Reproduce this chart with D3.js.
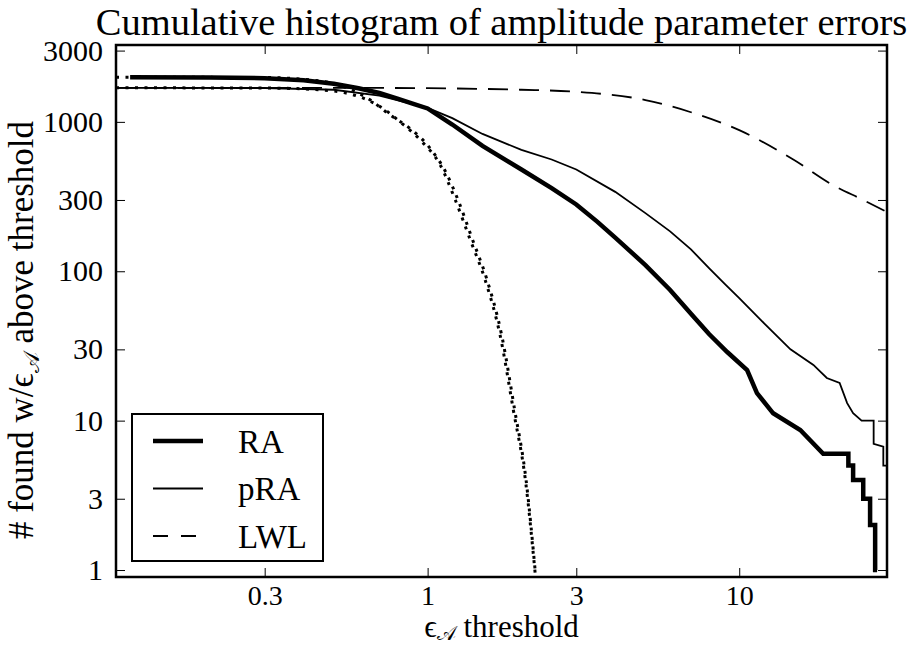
<!DOCTYPE html>
<html>
<head>
<meta charset="utf-8">
<script src="https://cdn.jsdelivr.net/npm/d3@7"></script>
<style>
    body { margin: 0; background: #fff; }
</style>
</head>
<body>
<div id="chart"></div>
<script>
// cumulative histogram of amplitude errors, log-log

// 0. data
var xTicks = [0.3, 1, 3, 10];
var yTicks = [1, 3, 10, 30, 100, 300, 1000, 3000];
var FONT = "'Liberation Serif'";

// RA, thick solid
var raX = [0.111, 0.2, 0.3, 0.4, 0.5, 0.6, 0.7, 0.8, 0.9, 1.0, 1.2, 1.5, 2.0, 2.5, 3.0, 3.5, 4.0, 5.0, 6.0, 7.0, 8.0, 9.15, 10.6, 11.4, 12.85, 15.7, 18.6, 22.4, 22.4, 23.2, 23.2, 25.0, 25.0, 26.3, 26.3, 27.3, 27.3, 27.7];
var raY = [1990, 1985, 1960, 1900, 1800, 1680, 1560, 1430, 1320, 1230, 960, 690, 480, 360, 280, 215, 168, 110, 75, 52, 38, 28.8, 21.8, 15.3, 11.2, 8.65, 6, 6, 5, 5, 4, 4, 3, 3, 2, 2, 1, 1];

// pRA, thin solid
var praX = [0.1, 0.3, 0.5, 0.7, 1.0, 1.2, 1.5, 2.0, 2.5, 3.0, 4.0, 5.0, 6.0, 7.0, 8.0, 9.0, 10.0, 12.0, 14.6, 17.3, 19.1, 21.0, 22.2, 23.2, 24.7, 27.0, 27.0, 29.0, 29.0, 29.8];
var praY = [1690, 1685, 1640, 1500, 1240, 1060, 830, 650, 560, 480, 340, 245, 185, 140, 105, 82, 66, 45, 30, 23.6, 19.3, 17.9, 13.1, 11.2, 10, 10, 7, 6.7, 5, 5];

// LWL, dashed
var lwlX = [0.1, 0.5, 1.0, 2.0, 3.0, 5.0, 7.0, 10.0, 15.0, 20.0, 25.0, 29.8];
var lwlY = [1690, 1690, 1680, 1640, 1590, 1400, 1160, 880, 555, 377, 300, 249];

// expected curves, dotted
var exp1X = [0.1, 0.3, 0.45, 0.608, 0.731, 0.817, 0.947, 1.098, 1.227, 1.371, 1.531, 1.71, 1.884, 2.06, 2.216];
var exp1Y = [1690, 1685, 1640, 1466, 1200, 997, 756, 514, 300, 162, 87, 37, 11.8, 4.0, 0.93];
var exp2X = [0.1, 0.3, 0.45, 0.655, 0.759, 0.88, 1.01, 1.15, 1.26, 1.39, 1.55, 1.73, 1.90, 2.07, 2.22];
var exp2Y = [1990, 1980, 1880, 1400, 1110, 900, 680, 450, 290, 165, 88, 37, 12, 4.0, 0.93];

// 0.1 size
var svgW = 913, svgH = 646;
var plot = {left: 116, top: 45, right: 887, bottom: 577};

// 1. svg
var svg = d3.select("#chart").append("svg").attr("width", svgW).attr("height", svgH)
    .style("font-family", FONT);

var x = d3.scaleLog().domain([0.1, 29.8]).range([plot.left, plot.right]);
var y = d3.scaleLog().domain([0.898, 3270]).range([plot.bottom, plot.top]);

function zip(xs, ys) {
    return xs.map(function (d, i) { return {x: d, y: ys[i]}; });
}

svg.append("clipPath").attr("id", "clip")
    .append("rect")
    .attr("x", plot.left).attr("y", plot.top)
    .attr("width", plot.right - plot.left).attr("height", plot.bottom - plot.top);

var line = d3.line()
    .x(function (d) { return x(d.x); })
    .y(function (d) { return y(d.y); });

var smooth = d3.line()
    .curve(d3.curveMonotoneX)
    .x(function (d) { return x(d.x); })
    .y(function (d) { return y(d.y); });

var series = [
    {data: zip(exp1X, exp1Y), width: 3, dash: "3,6.5", gen: smooth},
    {data: zip(exp2X, exp2Y), width: 3, dash: "3,6.5", gen: smooth},
    {data: zip(lwlX, lwlY), width: 1.8, dash: "20,11", gen: smooth},
    {data: zip(praX, praY), width: 1.8, dash: null, gen: line},
    {data: zip(raX, raY), width: 4.5, dash: null, gen: line}
];

svg.append("g").attr("clip-path", "url(#clip)")
    .selectAll("path")
    .data(series)
    .enter().append("path")
    .attr("d", function (d) { return d.gen(d.data); })
    .attr("fill", "none")
    .attr("stroke", "#000")
    .attr("stroke-width", function (d) { return d.width; })
    .attr("stroke-dasharray", function (d) { return d.dash; })
    .attr("stroke-linejoin", "miter");

// 2. axes, ticks pointing in
function styleAxis(size) {
    return function (g) {
        g.select(".domain").remove();
        g.attr("font-family", null).attr("font-size", null);
        g.selectAll(".tick line").attr("stroke", "#000").attr("stroke-width", 1);
        g.selectAll("text").style("font-family", FONT).style("font-size", size + "px").attr("fill", "#000");
    };
}

svg.append("g")
    .attr("transform", "translate(0," + plot.bottom + ")")
    .call(d3.axisBottom(x).tickValues(xTicks).tickSizeInner(-9).tickSizeOuter(0).tickPadding(8)
        .tickFormat(function (d) { return d; }))
    .call(styleAxis(28));

svg.append("g")
    .attr("transform", "translate(0," + plot.top + ")")
    .call(d3.axisTop(x).tickValues(xTicks).tickSizeInner(-9).tickSizeOuter(0).tickFormat(""))
    .call(styleAxis(28));

svg.append("g")
    .attr("transform", "translate(" + plot.left + ",0)")
    .call(d3.axisLeft(y).tickValues(yTicks).tickSizeInner(-9).tickSizeOuter(0).tickPadding(13)
        .tickFormat(function (d) { return d; }))
    .call(styleAxis(30));

svg.append("g")
    .attr("transform", "translate(" + plot.right + ",0)")
    .call(d3.axisRight(y).tickValues(yTicks).tickSizeInner(-9).tickSizeOuter(0).tickFormat(""))
    .call(styleAxis(30));

// frame
svg.append("rect")
    .attr("x", plot.left).attr("y", plot.top)
    .attr("width", plot.right - plot.left).attr("height", plot.bottom - plot.top)
    .attr("fill", "none").attr("stroke", "#000").attr("stroke-width", 2.5);

// 3. labels
svg.append("text")
    .attr("x", (plot.left + plot.right) / 2).attr("y", 35)
    .attr("text-anchor", "middle")
    .style("font-family", FONT).style("font-size", "38.5px")
    .text("Cumulative histogram of amplitude parameter errors");

var xl = svg.append("text")
    .attr("x", (plot.left + plot.right) / 2).attr("y", 637)
    .attr("text-anchor", "middle")
    .style("font-family", FONT).style("font-size", "31px");
xl.append("tspan").text("ϵ");
xl.append("tspan").attr("dy", 3).style("font-size", "20px").text("𝒜");
xl.append("tspan").attr("dy", -3).text(" threshold");

var yl = svg.append("text")
    .attr("transform", "translate(33,330) rotate(-90)")
    .attr("text-anchor", "middle")
    .style("font-family", FONT).style("font-size", "35px");
yl.append("tspan").text("# found w/ϵ");
yl.append("tspan").attr("dy", 6).style("font-size", "22px").text("𝒜");
yl.append("tspan").attr("dy", -6).text(" above threshold");

// 4. legend
var legendItems = [
    {name: "RA", width: 4.5, dash: null},
    {name: "pRA", width: 1.8, dash: null},
    {name: "LWL", width: 1.8, dash: "15,13"}
];
var legend = svg.append("g").attr("transform", "translate(132,414)");
legend.append("rect")
    .attr("width", 191).attr("height", 147)
    .attr("fill", "#fff").attr("stroke", "#000").attr("stroke-width", 2);
var li = legend.selectAll(".item").data(legendItems).enter().append("g")
    .attr("class", "item")
    .attr("transform", function (d, i) { return "translate(0," + (27 + i * 47.5) + ")"; });
li.append("line")
    .attr("x1", 21).attr("x2", 71)
    .attr("stroke", "#000")
    .attr("stroke-width", function (d) { return d.width; })
    .attr("stroke-dasharray", function (d) { return d.dash; });
li.append("text")
    .attr("x", 106).attr("dy", "0.35em")
    .style("font-family", FONT).style("font-size", "33px")
    .text(function (d) { return d.name; });
</script>
</body>
</html>
